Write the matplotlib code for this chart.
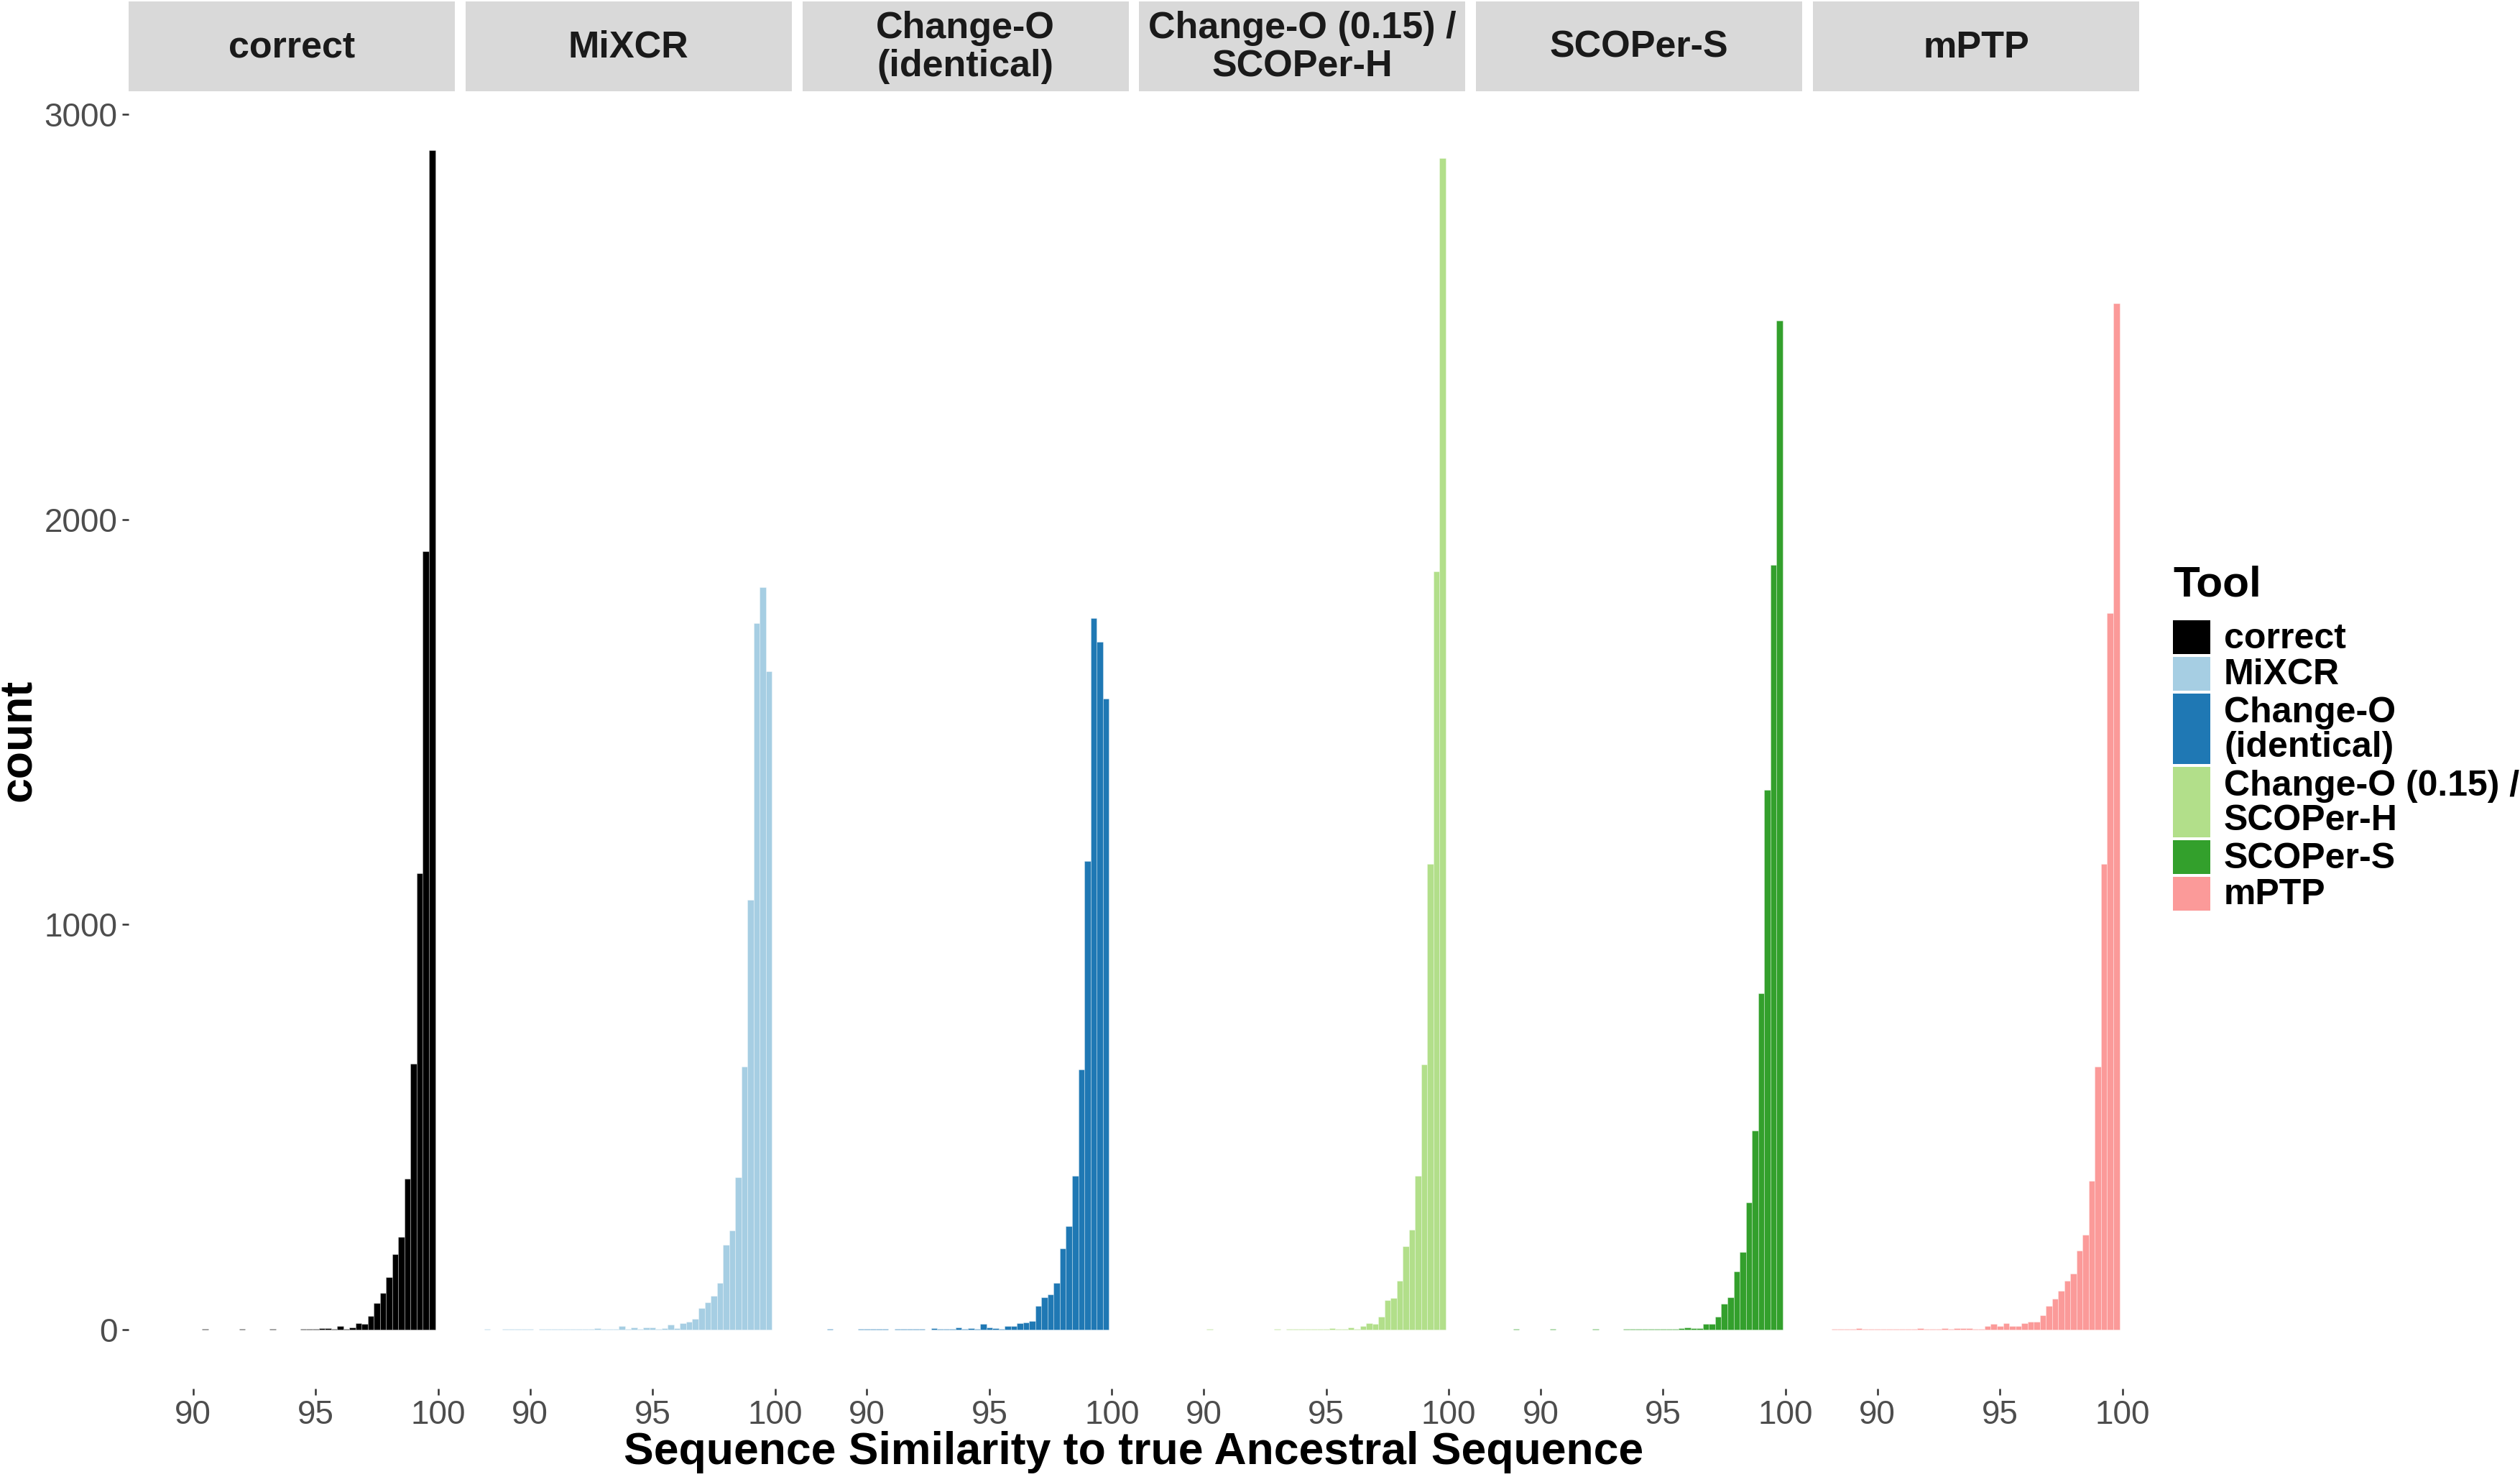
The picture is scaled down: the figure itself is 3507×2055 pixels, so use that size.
import numpy as np
import matplotlib
matplotlib.use('Agg')
import matplotlib.pyplot as plt
from matplotlib.patches import Rectangle

plt.rcParams['font.family'] = ['Liberation Sans', 'DejaVu Sans']

# histogram bins: centres start at 88.25, width 0.25 (47 bins up to 99.75)
bin_start = 88.25
bin_width = 0.25

tools = ['correct', 'MiXCR', 'Change-O\n(identical)', 'Change-O (0.15) /\nSCOPer-H',
         'SCOPer-S', 'mPTP']
colors = ['#000000', '#A6CEE3', '#1F78B4', '#B2DF8A', '#33A02C', '#FB9A99']

counts_correct = [0, 0, 0, 0, 0, 0, 0, 0, 0, 1, 0, 0, 0, 0, 0, 1, 0, 0, 0, 0, 1, 0, 0, 0, 0,
                  1, 2, 2, 4, 4, 2, 8, 2, 6, 16, 14, 34, 66, 91, 129, 187, 229, 372, 656,
                  1127, 1921, 2911]
counts_mixcr = [1, 0, 0, 1, 1, 1, 1, 1, 0, 1, 1, 2, 1, 1, 1, 1, 2,
                2, 4, 2, 2, 2, 8, 2, 6, 2, 6, 6, 2, 4, 12, 4, 16, 20, 26, 54, 68, 83, 115,
                209, 244, 376, 650, 1061, 1743, 1832, 1625]
counts_changeo_id = [0, 1, 0, 0, 0, 0, 1, 1, 1, 1, 1, 0, 1, 1, 1, 1, 1, 0,
                     4, 1, 1, 2, 6, 1, 4, 2, 14, 6, 4, 2, 8, 8, 16, 18, 22, 58, 79, 87, 115,
                     201, 256, 380, 642, 1157, 1757, 1697, 1558]
counts_changeo_015 = [0, 0, 0, 0, 0, 0, 0, 0, 1, 0, 0, 0, 0, 0, 0, 0, 0, 0, 0, 1,
                      0, 1, 1, 1, 1, 2, 1, 1,
                      4, 2, 2, 6, 2, 8, 16, 14, 32, 72, 78, 121, 205, 246, 380, 654, 1149,
                      1872, 2891]
counts_scoper_s = [0, 0, 0, 1, 0, 0, 0, 0, 0, 1, 0, 0, 0, 0, 0, 0, 1, 0, 0, 0, 0,
                   1, 1, 1, 1, 1,
                   1, 1, 1, 2, 4, 6, 4, 4, 14, 14, 32, 64, 79, 143, 191, 314, 491, 831,
                   1333, 1888, 2490]
counts_mptp = [1, 1, 1, 1, 4, 1, 1, 1, 1, 2, 1, 1, 2, 1,
               4, 2, 2, 2, 4, 1, 4, 4, 4, 2, 2, 8, 14, 8, 16, 8, 8, 16, 20, 20, 36, 58, 76,
               95, 121, 139, 195, 234, 368, 650, 1149, 1768, 2533]

all_counts = [counts_correct, counts_mixcr, counts_changeo_id, counts_changeo_015,
              counts_scoper_s, counts_mptp]

x_ticks = [90, 95, 100]
y_ticks = [0, 1000, 2000, 3000]

W, H = 3507, 2055
fig = plt.figure(figsize=(W / 300, H / 300), dpi=300)
fig.patch.set_facecolor('white')

panel_left = 179
panel_w = 454
panel_step = 468.8
panel_top = 127
panel_bottom = 1932
strip_h = 125

ymax = max(max(c) for c in all_counts)
ypad = 0.05 * ymax

for k, (tool, col, counts) in enumerate(zip(tools, colors, all_counts)):
    left = (panel_left + k * panel_step) / W
    ax = fig.add_axes([left, 1 - panel_bottom / H, panel_w / W,
                       (panel_bottom - panel_top) / H])
    centers = bin_start + bin_width * np.arange(len(counts))
    ax.bar(centers, counts, width=bin_width, color=col,
           edgecolor=(1, 1, 1, 0.3), linewidth=0.25)
    ax.set_xlim(87.37, 100.68)
    ax.set_ylim(-ypad, ymax + ypad)
    for s in ax.spines.values():
        s.set_visible(False)
    ax.set_xticks(x_ticks)
    ax.set_yticks(y_ticks)
    ax.tick_params(axis='both', length=2.2, width=0.6, color='#333333',
                   labelsize=11, labelcolor='#4D4D4D', pad=1.5)
    if k > 0:
        ax.tick_params(axis='y', left=False, labelleft=False)

    # facet strip
    sh = strip_h / (panel_bottom - panel_top)
    ax.add_patch(Rectangle((0, 1), 1, sh, transform=ax.transAxes,
                           facecolor='#D9D9D9', edgecolor='none', clip_on=False))
    ax.text(0.5, 1 + sh / 2 - 0.001, tool, transform=ax.transAxes, ha='center',
            va='center', fontsize=12.5, fontweight='bold', color='#1A1A1A',
            linespacing=1.1)

fig.text(1578 / W, 1 - 2020 / H, 'Sequence Similarity to true Ancestral Sequence',
         ha='center', va='center', fontsize=15, fontweight='bold')
fig.text(27 / W, 1 - 1030 / H, 'count', ha='center', va='center', rotation=90,
         fontsize=15, fontweight='bold')

# legend drawn by hand so multi-line keys stretch like ggplot
leg_x = 3024
key_w = 52
line_h = 51
fig.text(leg_x / W, 1 - 814 / H, 'Tool', ha='left', va='center',
         fontsize=14.5, fontweight='bold')
y = 861
for tool, col in zip(tools, colors):
    h = line_h * (tool.count('\n') + 1)
    fig.patches.append(Rectangle((leg_x / W, 1 - (y + h - 2) / H), key_w / W, (h - 4) / H,
                                 transform=fig.transFigure, facecolor=col,
                                 edgecolor='none'))
    fig.text(3095 / W, 1 - (y + h / 2 + 2) / H, tool, ha='left', va='center',
             fontsize=12, fontweight='bold', linespacing=1.03)
    y += h

fig.savefig('out.png', dpi=300, facecolor='white')
